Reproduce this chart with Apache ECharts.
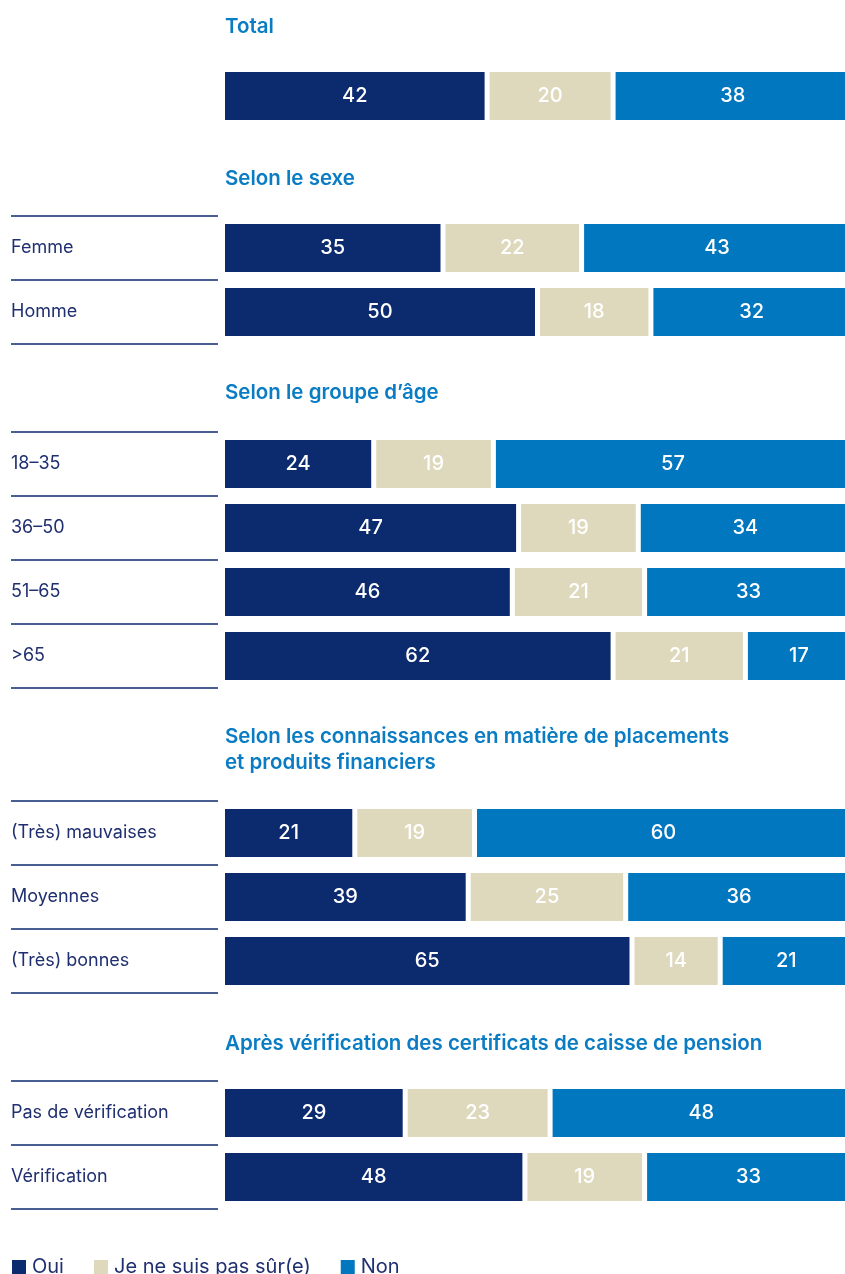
<!DOCTYPE html>
<html><head><meta charset="utf-8">
<script src="https://cdn.jsdelivr.net/npm/echarts@6/dist/echarts.min.js"></script>
<style>html,body{margin:0;padding:0;background:#fff}#c{width:845px;height:1274px}</style>
</head><body><div id="c"></div>
<script>
const seriesNames = ['Oui', 'Je ne suis pas sûr(e)', 'Non'];
const sectionTitles = ['Total', 'Selon le sexe', 'Selon le groupe d’âge',
  'Selon les connaissances en matière de placements\net produits financiers',
  'Après vérification des certificats de caisse de pension'];
const catTotal = [''];
const catSexe = ['Femme', 'Homme'];
const catAge = ['18–35', '36–50', '51–65', '>65'];
const catConn = ['(Très) mauvaises', 'Moyennes', '(Très) bonnes'];
const catVerif = ['Pas de vérification', 'Vérification'];
const ouiTotal = [42], surTotal = [20], nonTotal = [38];
const ouiSexe = [35, 50], surSexe = [22, 18], nonSexe = [43, 32];
const ouiAge = [24, 47, 46, 62], surAge = [19, 19, 21, 21], nonAge = [57, 34, 33, 17];
const ouiConn = [21, 39, 65], surConn = [19, 25, 14], nonConn = [60, 36, 21];
const ouiVerif = [29, 48], surVerif = [23, 19], nonVerif = [48, 33];

const sections = [
  {cats: catTotal, vals: [ouiTotal, surTotal, nonTotal], top: 64, titleTop: 14, rules: false},
  {cats: catSexe, vals: [ouiSexe, surSexe, nonSexe], top: 216, titleTop: 166, rules: true},
  {cats: catAge, vals: [ouiAge, surAge, nonAge], top: 432, titleTop: 380, rules: true},
  {cats: catConn, vals: [ouiConn, surConn, nonConn], top: 801, titleTop: 724, rules: true},
  {cats: catVerif, vals: [ouiVerif, surVerif, nonVerif], top: 1081, titleTop: 1031, rules: true}
];
const colors = ['#0c2a6e', '#ded9bd', '#0077bf'];
const ROW = 64;
const FONT = 'Inter, "Noto Sans", sans-serif';

const option = {
  animation: false,
  color: colors,
  title: sections.map((s, i) => ({
    text: sectionTitles[i], left: 223, top: s.titleTop, padding: [0, 2],
    textStyle: {color: '#0a7cc4', fontSize: 20.5, fontWeight: 600, fontFamily: FONT, lineHeight: 26}
  })),
  legend: {
    data: seriesNames, left: 10, top: 1257, icon: 'rect', itemWidth: 16, itemHeight: 16,
    itemGap: 28, padding: 0,
    textStyle: {color: '#1f2f6f', fontSize: 20, fontFamily: FONT}
  },
  grid: [], xAxis: [], yAxis: [], series: []
};
sections.forEach((s, i) => {
  const h = ROW * s.cats.length;
  option.grid.push({left: 222.5, width: 630, top: s.top, height: h, outerBoundsMode: 'none'});
  const gi = option.grid.length - 1;
  option.xAxis.push({type: 'value', gridIndex: gi, min: 0, max: 100, show: false});
  option.yAxis.push({type: 'category', gridIndex: gi, data: s.cats, inverse: true, show: false});
  seriesNames.forEach((n, k) => {
    option.series.push({
      type: 'bar', name: n, xAxisIndex: gi, yAxisIndex: gi, stack: 'st' + i,
      data: s.vals[k], barWidth: 53,
      itemStyle: {color: colors[k], borderColor: '#ffffff', borderWidth: 2.5},
      label: {show: true, position: 'inside', color: '#ffffff', fontSize: 20, fontWeight: 500, fontFamily: FONT}
    });
  });
  if (s.rules) {
    option.grid.push({left: 11, width: 207, top: s.top, height: h, outerBoundsMode: 'none'});
    const li = option.grid.length - 1;
    option.xAxis.push({type: 'value', gridIndex: li, min: 0, max: 1, show: false});
    option.yAxis.push({
      type: 'category', gridIndex: li, data: s.cats, inverse: true,
      axisLine: {show: false}, axisTick: {show: false},
      splitLine: {show: true, lineStyle: {color: '#0c2a6e', width: 1.5}},
      axisLabel: {show: true, inside: true, margin: 0, align: 'left', padding: [6, 0, 0, 0],
        color: '#1f2f6f', fontSize: 18, fontFamily: FONT}
    });
  }
});
const chart = echarts.init(document.getElementById('c'), null, {renderer: 'canvas'});
chart.setOption(option);
</script></body></html>
